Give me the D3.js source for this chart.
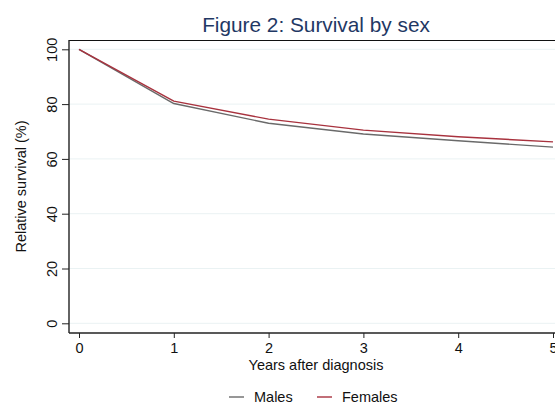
<!DOCTYPE html>
<html>
<head>
<meta charset="utf-8">
<script src="https://cdn.jsdelivr.net/npm/d3@7"></script>
<style>
  html, body { margin: 0; padding: 0; background: #fff; }
  svg { display: block; font-family: "Liberation Sans", Arial, Helvetica, sans-serif; }
</style>
</head>
<body>
<svg id="chart" width="555" height="405"></svg>
<script>
// Relative survival by years after diagnosis
const years = [0, 1, 2, 3, 4, 5];
const males = [100, 80.2, 73.0, 69.1, 66.6, 64.3];
const females = [100, 81.1, 74.5, 70.5, 68.1, 66.2];
const yTicks = [0, 20, 40, 60, 80, 100];
const xTicks = [0, 1, 2, 3, 4, 5];
const seriesNames = ["Males", "Females"];
const seriesColors = ["#6a6a6a", "#a8323e"];

const svg = d3.select("#chart");

// plot region frame
const region = { left: 69, right: 563, top: 40, bottom: 333 };

const x = d3.scaleLinear().domain([0, 5]).range([79, 553]);
const y = d3.scaleLinear().domain([0, 100]).range([323.3, 49.3]);
const fmt = d3.format("d");

// gridlines
svg.append("g")
  .selectAll("line")
  .data(yTicks)
  .join("line")
  .attr("x1", region.left)
  .attr("x2", region.right)
  .attr("y1", d => y(d))
  .attr("y2", d => y(d))
  .attr("stroke", "#eaf2f3")
  .attr("stroke-width", 1);

// top frame line
svg.append("line")
  .attr("x1", region.left).attr("x2", region.right)
  .attr("y1", region.top + 0.5).attr("y2", region.top + 0.5)
  .attr("stroke", "#111").attr("stroke-width", 1);

// series lines
const lineGen = d3.line()
  .x((d, i) => x(years[i]))
  .y(d => y(d));

[males, females].forEach((vals, k) => {
  svg.append("path")
    .datum(vals)
    .attr("d", lineGen)
    .attr("fill", "none")
    .attr("stroke", seriesColors[k])
    .attr("stroke-width", 1.4)
    .attr("stroke-linejoin", "round");
});

// y axis
const yAxis = svg.append("g")
  .attr("transform", `translate(${region.left},0)`)
  .call(d3.axisLeft(y).tickValues(yTicks).tickFormat(fmt).tickSize(7).tickSizeOuter(0).tickPadding(5));
yAxis.select(".domain").remove();
yAxis.append("line")
  .attr("x1", 0).attr("x2", 0)
  .attr("y1", region.top).attr("y2", region.bottom)
  .attr("stroke", "#222").attr("stroke-width", 1.4);
yAxis.selectAll(".tick line").attr("stroke", "#222").attr("stroke-width", 1);
yAxis.selectAll(".tick text")
  .attr("font-size", 14.5)
  .attr("fill", "#111")
  .attr("x", null)
  .attr("dy", null)
  .attr("text-anchor", "middle")
  .attr("transform", "translate(-12,0) rotate(-90)");

// x axis
const xAxis = svg.append("g")
  .attr("transform", `translate(0,${region.bottom})`)
  .call(d3.axisBottom(x).tickValues(xTicks).tickFormat(fmt).tickSize(5).tickSizeOuter(0).tickPadding(5));
xAxis.select(".domain").remove();
xAxis.append("line")
  .attr("x1", region.left).attr("x2", region.right)
  .attr("y1", 0).attr("y2", 0)
  .attr("stroke", "#222").attr("stroke-width", 1.4);
xAxis.selectAll(".tick line").attr("stroke", "#222").attr("stroke-width", 1);
xAxis.selectAll(".tick text")
  .attr("font-size", 14.5)
  .attr("fill", "#111")
  .attr("y", 20)
  .attr("dy", null);

// title
svg.append("text")
  .attr("x", 316)
  .attr("y", 32.3)
  .attr("text-anchor", "middle")
  .attr("font-size", 20.8)
  .attr("fill", "#1f3864")
  .text("Figure 2: Survival by sex");

// axis titles
svg.append("text")
  .attr("x", 316)
  .attr("y", 370)
  .attr("text-anchor", "middle")
  .attr("font-size", 14.5)
  .attr("fill", "#111")
  .text("Years after diagnosis");

svg.append("text")
  .attr("transform", `translate(26,${(region.top + region.bottom) / 2}) rotate(-90)`)
  .attr("text-anchor", "middle")
  .attr("font-size", 14.5)
  .attr("fill", "#111")
  .text("Relative survival (%)");

// legend
const legendItems = [
  { name: seriesNames[0], color: seriesColors[0], lx: 229 },
  { name: seriesNames[1], color: seriesColors[1], lx: 317 }
];
const lg = svg.append("g");
legendItems.forEach(it => {
  lg.append("line")
    .attr("x1", it.lx).attr("x2", it.lx + 15)
    .attr("y1", 397).attr("y2", 397)
    .attr("stroke", it.color).attr("stroke-width", 1.4);
  lg.append("text")
    .attr("x", it.lx + 25)
    .attr("y", 402)
    .attr("font-size", 14.5)
    .attr("fill", "#111")
    .text(it.name);
});
</script>
</body>
</html>
